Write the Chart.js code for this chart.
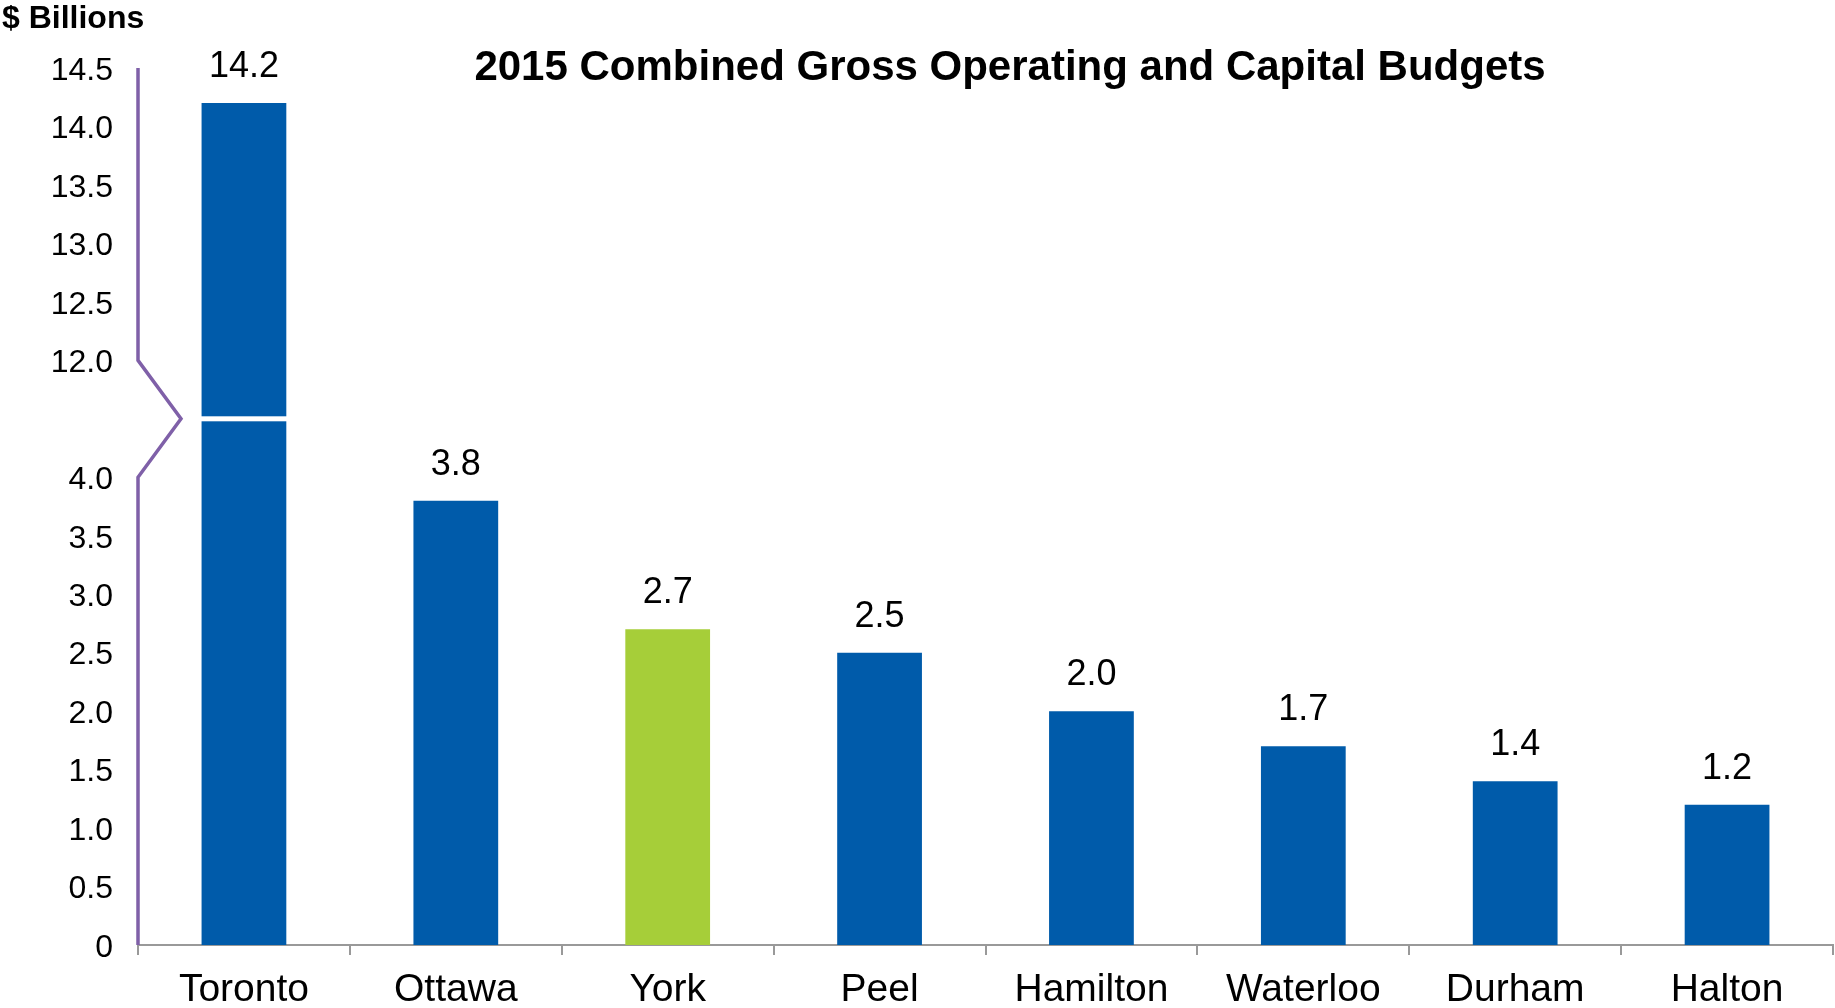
<!DOCTYPE html>
<html>
<head>
<meta charset="utf-8">
<title>2015 Combined Gross Operating and Capital Budgets</title>
<script src="https://cdn.jsdelivr.net/npm/chart.js@4.4.1/dist/chart.umd.min.js"></script>
<style>
  html, body { margin: 0; padding: 0; background: #ffffff; }
  #wrap { width: 1835px; height: 1008px; position: relative; }
</style>
</head>
<body>
<div id="wrap"><canvas id="budget-chart"></canvas></div>
<script>
const FONT = '"Liberation Sans", Arial, sans-serif';

const CITIES = ["Toronto", "Ottawa", "York", "Peel", "Hamilton", "Waterloo", "Durham", "Halton"];
const BUDGETS = [14.2, 3.8, 2.7, 2.5, 2.0, 1.7, 1.4, 1.2];
const BAR_COLORS = ["#005BAA", "#005BAA", "#A6CE39", "#005BAA", "#005BAA", "#005BAA", "#005BAA", "#005BAA"];
const LOW_TICKS = [0, 0.5, 1.0, 1.5, 2.0, 2.5, 3.0, 3.5, 4.0];
const HIGH_TICKS = [12.0, 12.5, 13.0, 13.5, 14.0, 14.5];

// The axis is broken between 4 and 12: everything above the break is shifted down by 7.
const BREAK_LOW = 4;
const BREAK_HIGH = 12;
const BREAK_SHIFT = BREAK_HIGH - BREAK_LOW - 1;

function toAxis(v) { return v >= BREAK_HIGH ? v - BREAK_SHIFT : v; }
function fromAxis(v) {
  if (v <= BREAK_LOW) return v;
  if (v >= BREAK_HIGH - BREAK_SHIFT) return v + BREAK_SHIFT;
  return null;
}

const tickValues = LOW_TICKS.concat(HIGH_TICKS).map(toAxis);

// Title, unit label, broken y axis line, the cut through the tall bar and the value labels.
const decorations = {
  id: 'decorations',
  afterDatasetsDraw(chart) {
    const ctx = chart.ctx;
    const y = chart.scales.y;
    const area = chart.chartArea;
    const meta = chart.getDatasetMeta(0);

    // white cut across bars crossing the break
    const cutY = y.getPixelForValue(BREAK_LOW + 0.5);
    meta.data.forEach((bar, i) => {
      if (BUDGETS[i] < BREAK_HIGH) return;
      ctx.save();
      ctx.fillStyle = '#ffffff';
      ctx.fillRect(bar.x - bar.width / 2 - 1, cutY - 2.5, bar.width + 2, 5);
      ctx.restore();
    });

    // y axis with the zigzag
    const topBreak = y.getPixelForValue(BREAK_HIGH - BREAK_SHIFT);
    const botBreak = y.getPixelForValue(BREAK_LOW);
    ctx.save();
    ctx.strokeStyle = '#7F60A8';
    ctx.lineWidth = 3.5;
    ctx.lineJoin = 'miter';
    ctx.beginPath();
    ctx.moveTo(area.left, area.top);
    ctx.lineTo(area.left, topBreak);
    ctx.lineTo(area.left + 43, (topBreak + botBreak) / 2);
    ctx.lineTo(area.left, botBreak);
    ctx.lineTo(area.left, area.bottom);
    ctx.stroke();
    ctx.restore();

    // value labels
    ctx.save();
    ctx.fillStyle = '#000000';
    ctx.font = '36px ' + FONT;
    ctx.textAlign = 'center';
    ctx.textBaseline = 'alphabetic';
    meta.data.forEach((bar, i) => {
      ctx.fillText(BUDGETS[i].toFixed(1), bar.x, bar.y - 26);
    });

    ctx.font = 'bold 42px ' + FONT;
    ctx.fillText('2015 Combined Gross Operating and Capital Budgets', 1010, 80);
    ctx.textAlign = 'left';
    ctx.font = 'bold 32px ' + FONT;
    ctx.fillText('$ Billions', 2, 28);
    ctx.restore();
  }
};

new Chart(document.getElementById('budget-chart'), {
  type: 'bar',
  data: {
    labels: CITIES,
    datasets: [{
      data: BUDGETS.map(toAxis),
      backgroundColor: BAR_COLORS,
      borderWidth: 0,
      barPercentage: 0.4,
      categoryPercentage: 1.0
    }]
  },
  options: {
    responsive: true,
    maintainAspectRatio: false,
    animation: false,
    layout: { padding: { top: 68, right: 2, left: 0, bottom: 0 } },
    plugins: {
      legend: { display: false },
      tooltip: { enabled: false },
      title: { display: false }
    },
    scales: {
      x: {
        offset: true,
        grid: {
          offset: true,
          drawOnChartArea: false,
          drawTicks: true,
          tickLength: 10,
          color: '#999999',
          lineWidth: 2
        },
        border: { display: true, color: '#999999', width: 2 },
        ticks: {
          color: '#000000',
          padding: 12,
          font: { family: FONT, size: 39 },
          maxRotation: 0
        },
        afterFit(scale) { scale.height = 63; }
      },
      y: {
        min: 0,
        max: toAxis(HIGH_TICKS[HIGH_TICKS.length - 1]),
        grid: { display: false, drawTicks: false },
        border: { display: false },
        afterBuildTicks(scale) {
          scale.ticks = tickValues.map(v => ({ value: v }));
        },
        ticks: {
          color: '#000000',
          padding: 25,
          labelOffset: 3,
          font: { family: FONT, size: 32 },
          callback(value) {
            const real = fromAxis(value);
            if (real === null) return '';
            return real === 0 ? '0' : real.toFixed(1);
          }
        },
        afterFit(scale) { scale.width = 138; }
      }
    }
  },
  plugins: [decorations]
});
</script>
</body>
</html>
